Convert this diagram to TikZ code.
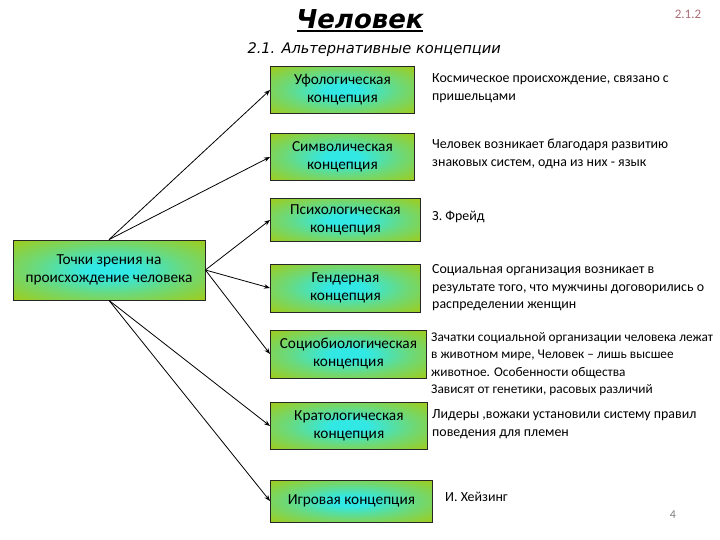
\documentclass[tikz,border=0pt]{standalone}
\usepackage{fontspec}
\setmainfont{Carlito}
\newfontfamily\headfont{DejaVu Sans}
\usetikzlibrary{arrows.meta,positioning}
\definecolor{leafgreen}{RGB}{155,205,35}
\definecolor{aquacore}{RGB}{50,232,228}
\definecolor{pagenum}{RGB}{170,110,120}
\pgfdeclareradialshading{conceptglow}{\pgfpoint{0bp}{0bp}}{%
  color(0bp)=(aquacore); color(6bp)=(aquacore); color(20bp)=(leafgreen!55!aquacore);
  color(34bp)=(leafgreen); color(70bp)=(leafgreen)}

\begin{document}
\begin{tikzpicture}[x=1pt,y=-1pt,>={Stealth[length=6pt,width=4.5pt]},
  concept/.style={draw=black!85,line width=0.8pt,shading=conceptglow,
    align=center,anchor=west,inner sep=2pt,font=\fontsize{15.3}{18}\selectfont},
  desc/.style={anchor=west,align=left,inner sep=0pt,font=\fontsize{13.9}{17.5}\selectfont}]
  \useasboundingbox (0,0) rectangle (720,540);
  % headings
  \node[inner sep=0pt] (title) at (360,19) {\headfont\bfseries\itshape\fontsize{26}{28}\selectfont Человек};
  \draw[line width=2.6pt] ([xshift=1pt,yshift=-2pt]title.south west) -- ([xshift=-1pt,yshift=-2pt]title.south east);
  \node[text=pagenum,font=\fontsize{13}{15}\selectfont] (code) at (688,14) {2.1.2};
  \node[anchor=west,font=\headfont\itshape\fontsize{14.6}{16}\selectfont] (sub) at (244,50) {2.1. Альтернативные концепции};
  % root
  \node[concept,anchor=center,minimum width=192pt,minimum height=60pt] (root) at (109,270)
    {Точки зрения на\\происхождение человека};
  % concepts
  \node[concept,minimum width=144pt,minimum height=47pt] (ufo)   at (270,90)  {Уфологическая\\концепция};
  \node[concept,minimum width=144pt,minimum height=47pt] (symb)  at (270,157) {Символическая\\концепция};
  \node[concept,minimum width=150pt,minimum height=43pt] (psy)   at (270,220) {Психологическая\\концепция};
  \node[concept,minimum width=150pt,minimum height=48pt] (gend)  at (270,288) {Гендерная\\концепция};
  \node[concept,minimum width=156pt,minimum height=48pt] (sbio)  at (270,354) {Социобиологическая\\концепция};
  \node[concept,minimum width=157pt,minimum height=47pt] (krat)  at (270,426) {Кратологическая\\концепция};
  \node[concept,minimum width=162pt,minimum height=42pt] (game)  at (270,501) {Игровая концепция};
  % descriptions
  \node[desc] (dufo)  at (432,88)  {Космическое происхождение, связано с\\пришельцами};
  \node[desc] (dsymb) at (432,154) {Человек возникает благодаря развитию\\знаковых систем, одна из них - язык};
  \node[desc] (dpsy)  at (432,217) {З. Фрейд};
  \node[desc] (dgend) at (432,288) {Социальная организация возникает в\\результате того, что мужчины договорились о\\распределении женщин};
  \node[desc,font=\fontsize{13.3}{17.5}\selectfont] (dsbio) at (431,364) {Зачатки социальной организации человека лежат\\в животном мире, Человек -- лишь высшее\\животное. Особенности общества\\Зависят от генетики, расовых различий};
  \node[desc] (dkrat) at (432,424) {Лидеры ,вожаки установили систему правил\\поведения для племен};
  \node[desc] (dgame) at (445,497) {И. Хейзинг};
  \node[text=black!50,font=\fontsize{12}{14}\selectfont] (slide) at (673,515) {4};
  % arrows
  \foreach \t in {ufo,symb} \draw[->,thick] (root.north) -- (\t.west);
  \foreach \t in {psy,gend,sbio} \draw[->,thick] (root.east) -- (\t.west);
  \foreach \t in {krat,game} \draw[->,thick] (root.south) -- (\t.west);
\end{tikzpicture}
\end{document}
